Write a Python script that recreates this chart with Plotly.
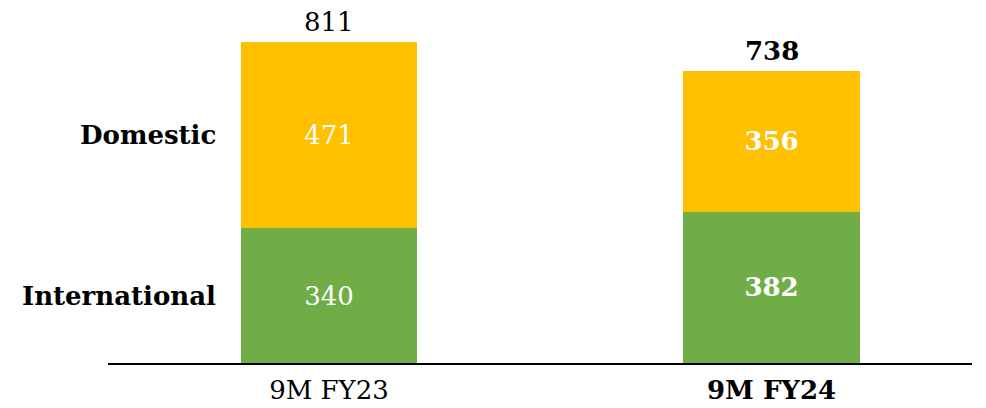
import plotly.graph_objects as go

# Revenue split by segment
periods = ["9M FY23", "9M FY24"]
period_labels = ["9M FY23", "<b>9M FY24</b>"]
international = [340, 382]
domestic = [471, 356]
totals = [811, 738]
bold_period = [False, True]

FONT = "DejaVu Serif"
YELLOW = "#FFC000"
GREEN = "#70AD47"


def fmt(v, bold):
    return f"<b>{v}</b>" if bold else str(v)


fig = go.Figure()
fig.add_trace(go.Bar(
    x=periods, y=international, name="International",
    marker=dict(color=GREEN, line=dict(width=0)),
    text=[fmt(v, b) for v, b in zip(international, bold_period)],
    textposition="inside", insidetextanchor="middle",
    textfont=dict(family=FONT, size=26, color="white"),
    width=0.398,
))
fig.add_trace(go.Bar(
    x=periods, y=domestic, name="Domestic",
    marker=dict(color=YELLOW, line=dict(width=0)),
    text=[fmt(v, b) for v, b in zip(domestic, bold_period)],
    textposition="inside", insidetextanchor="middle",
    textfont=dict(family=FONT, size=26, color="white"),
    width=0.398,
))

# Totals above each stack
for p, t, b in zip(periods, totals, bold_period):
    fig.add_annotation(
        x=p, y=t, xref="x", yref="y", text=fmt(t, b), showarrow=False,
        yanchor="bottom", yshift=3,
        font=dict(family=FONT, size=26, color="black"),
    )

# Segment names beside the first stack
for name, y in [("Domestic", international[0] + domestic[0] / 2),
                ("International", international[0] / 2)]:
    fig.add_annotation(
        x=0.1273, xref="paper", y=y, yref="y", text=f"<b>{name}</b>",
        showarrow=False, xanchor="right", yanchor="middle",
        font=dict(family=FONT, size=26, color="black"),
    )

fig.update_layout(
    barmode="stack",
    width=986, height=408,
    margin=dict(l=108, r=14, t=0, b=45),
    paper_bgcolor="white", plot_bgcolor="white",
    showlegend=False,
    xaxis=dict(
        type="category", range=[-0.4994, 1.453],
        tickvals=periods, ticktext=period_labels,
        showline=True, linecolor="black", linewidth=2,
        showgrid=False, zeroline=False, ticks="",
        ticklabelstandoff=3, automargin=False,
        tickfont=dict(family=FONT, size=26, color="black"),
    ),
    yaxis=dict(range=[0, 917.4], visible=False, showgrid=False,
               zeroline=False, automargin=False),
)

fig.write_html("out.html")
